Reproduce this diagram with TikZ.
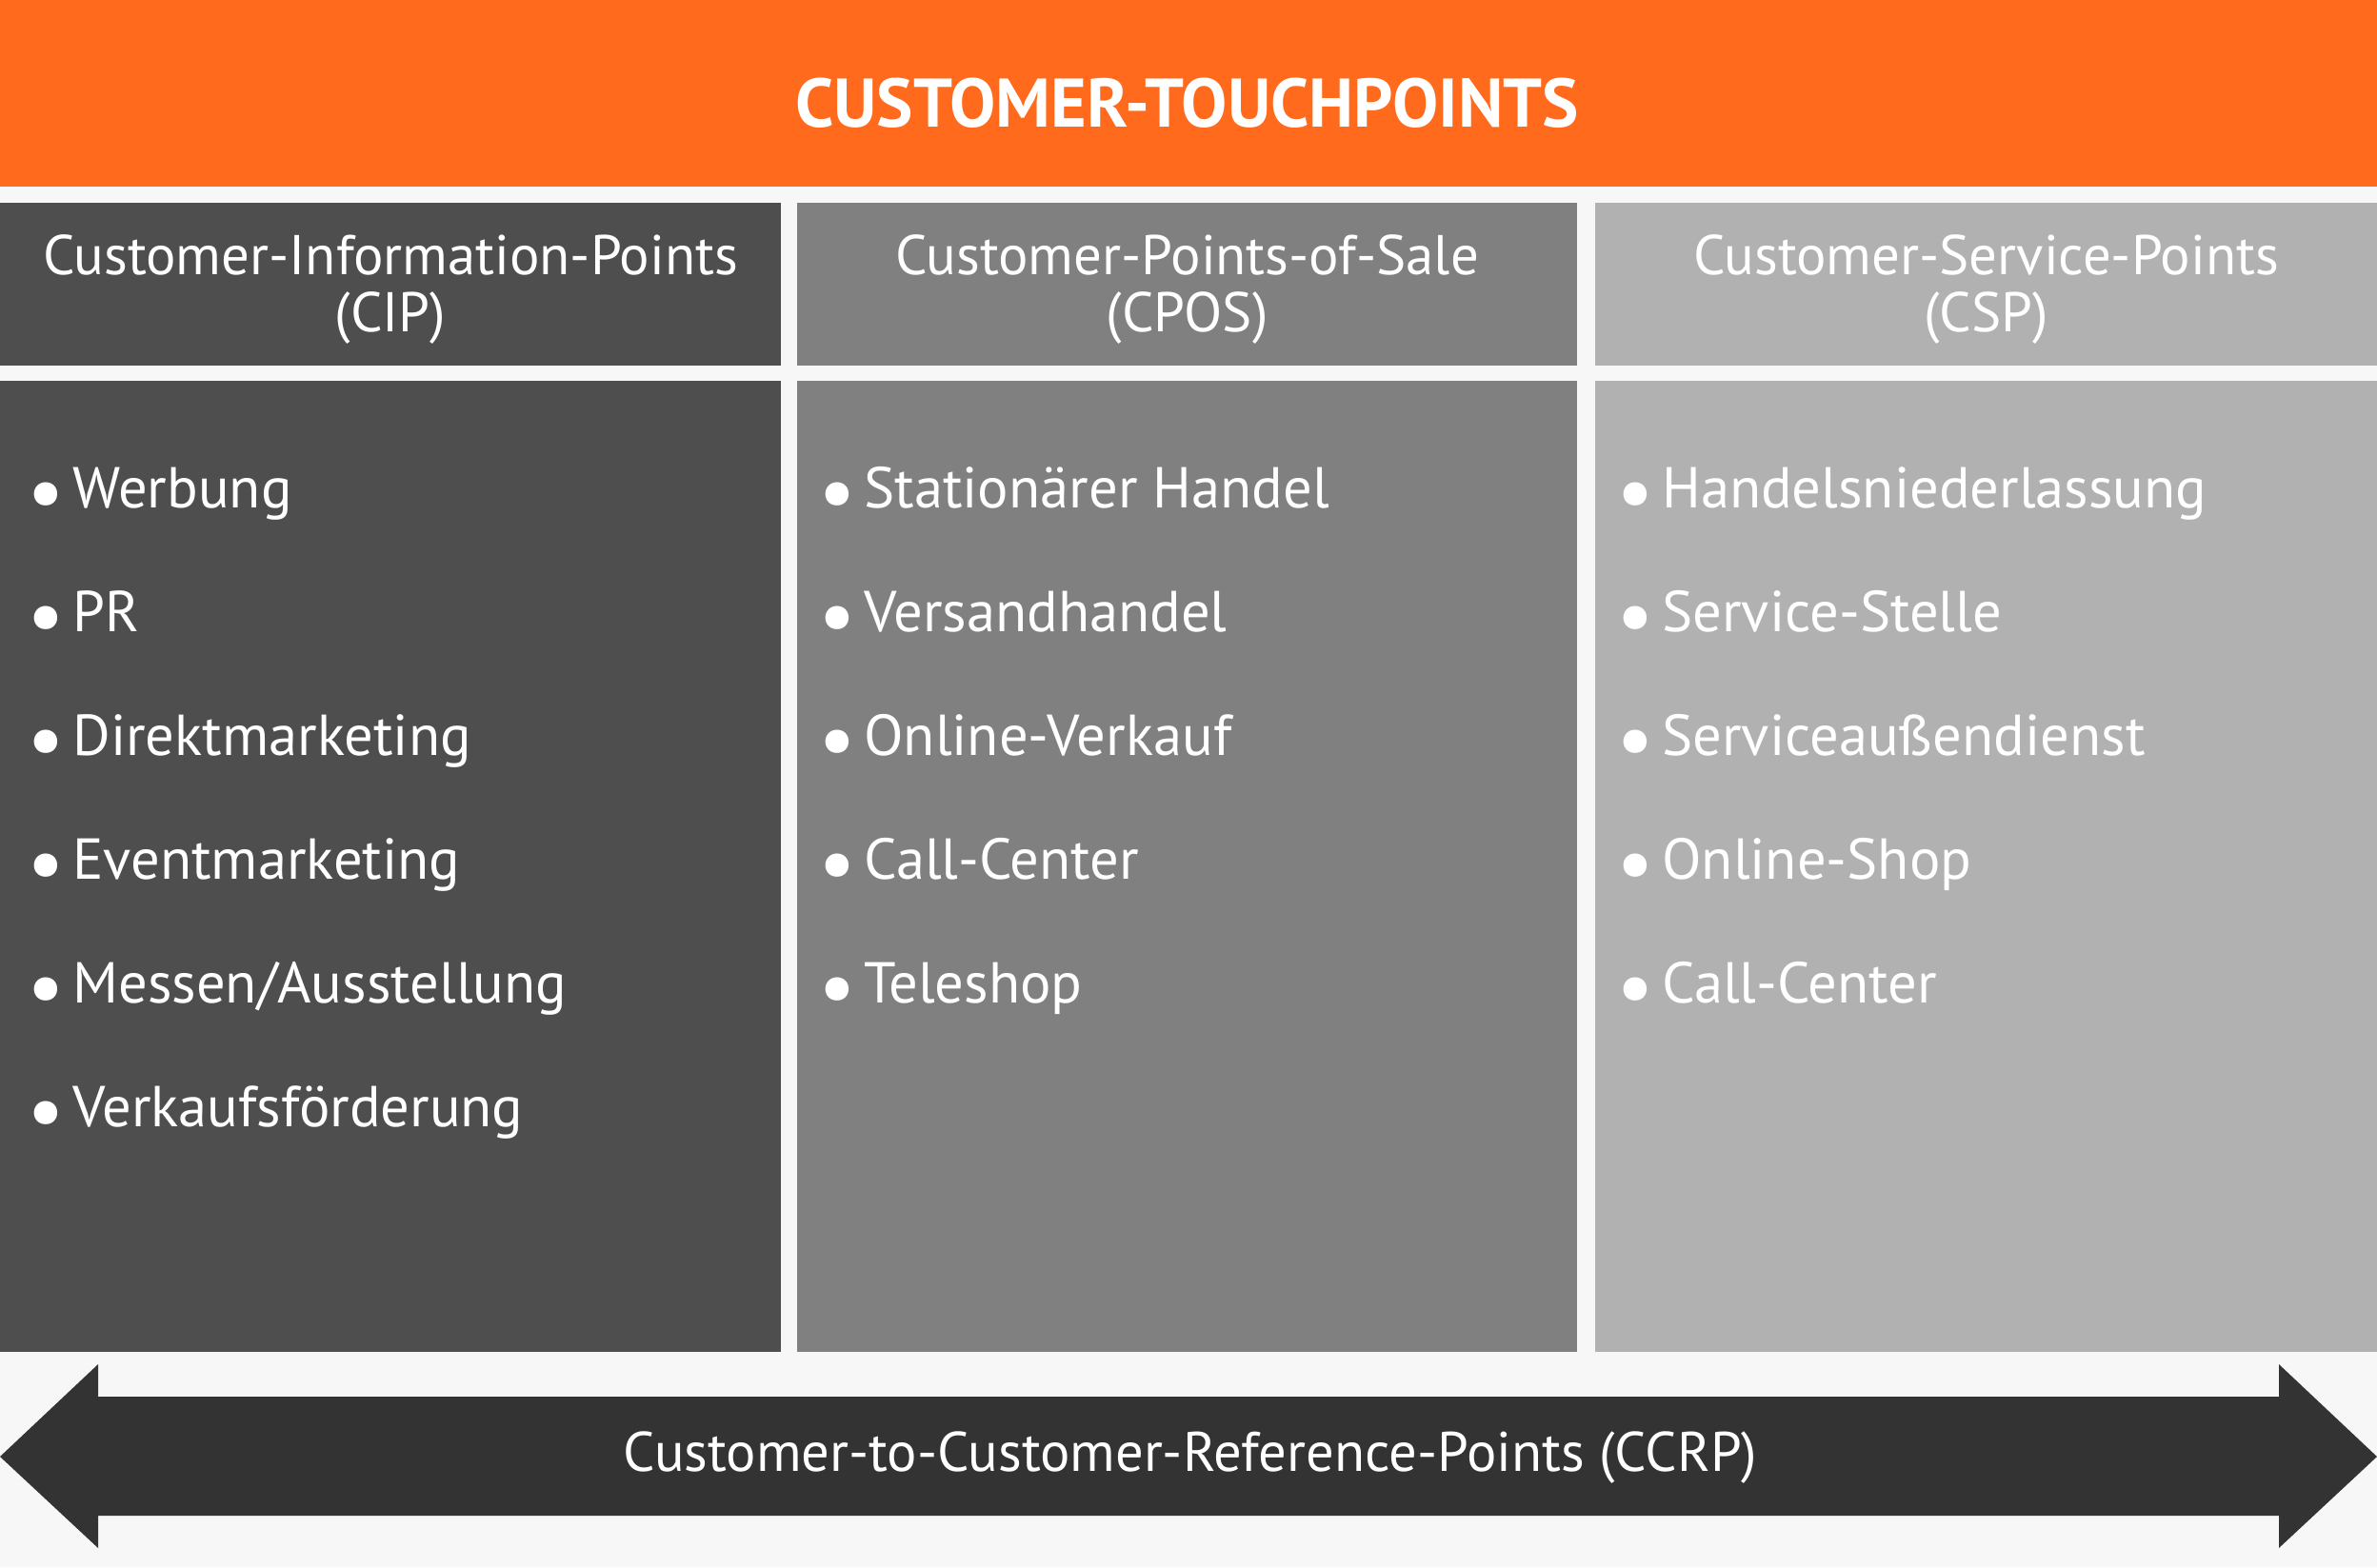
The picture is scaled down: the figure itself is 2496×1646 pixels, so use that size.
\documentclass[tikz,border=0pt]{standalone}
\usepackage{fontspec}
\usepackage{graphicx}
\setmainfont{PT Sans}
\definecolor{bgc}{HTML}{F7F7F7}
\definecolor{orangec}{HTML}{FF6A1C}
\definecolor{darkc}{HTML}{4E4E4E}
\definecolor{midc}{HTML}{808080}
\definecolor{lightc}{HTML}{B1B1B1}
\definecolor{arrowc}{HTML}{333333}
\newcommand{\itembul}{\makebox[20pt][l]{\hspace{-4pt}\raisebox{-6.5pt}{\scalebox{1.45}{\textbullet}}}}
\begin{document}
\begin{tikzpicture}[x=0.5pt,y=-0.5pt,
  panel/.style={inner sep=0pt, outer sep=0pt, draw=none},
  hdrbox/.style={panel, minimum height=85.5pt},
  bodybox/.style={panel, minimum height=510pt},
  hdrtext/.style={text=white, align=center, inner sep=0pt, font=\fontsize{29.4pt}{30pt}\selectfont},
  itemtext/.style={text=white, anchor=base west, inner sep=0pt, font=\fontsize{30.3pt}{34pt}\selectfont},
  titletext/.style={text=white, anchor=base, inner sep=0pt, font=\fontsize{36.1pt}{40pt}\selectfont\bfseries},
  labeltext/.style={text=white, anchor=base, inner sep=0pt, font=\fontsize{29.3pt}{30pt}\selectfont}
]
\useasboundingbox (0,0) rectangle (2496,1646);
\fill[bgc] (0,0) rectangle (2496,1646);
% title band
\node[panel, fill=orangec, minimum width=1248pt, minimum height=98pt] (band) at (1248,98) {};
\node[titletext] (title) at (1246.5,133) {CUSTOMER-TOUCHPOINTS};
% header boxes
\node[hdrbox, fill=darkc, minimum width=410pt] (h1) at (410,298.5) {};
\node[hdrbox, fill=midc, minimum width=409.5pt] (h2) at (1246.5,298.5) {};
\node[hdrbox, fill=lightc, minimum width=410.5pt] (h3) at (2085.5,298.5) {};
\node[hdrtext] (h1t) at (410,304) {Customer-Information-Points\\(CIP)};
\node[hdrtext] (h2t) at (1246.5,304) {Customer-Points-of-Sale\\(CPOS)};
\node[hdrtext] (h3t) at (2085.5,304) {Customer-Service-Points\\(CSP)};
% body boxes
\node[bodybox, fill=darkc, minimum width=410pt] (b1) at (410,910) {};
\node[bodybox, fill=midc, minimum width=409.5pt] (b2) at (1246.5,910) {};
\node[bodybox, fill=lightc, minimum width=410.5pt] (b3) at (2085.5,910) {};
% items column 1
\node[itemtext] (a1) at (36,533) {\itembul Werbung};
\node[itemtext] (a2) at (36,663) {\itembul PR};
\node[itemtext] (a3) at (36,793) {\itembul Direktmarketing};
\node[itemtext] (a4) at (36,923) {\itembul Eventmarketing};
\node[itemtext] (a5) at (36,1053) {\itembul Messen/Ausstellung};
\node[itemtext] (a6) at (36,1183) {\itembul Verkaufsförderung};
% items column 2
\node[itemtext] (c1) at (867,533) {\itembul Stationärer Handel};
\node[itemtext] (c2) at (867,663) {\itembul Versandhandel};
\node[itemtext] (c3) at (867,793) {\itembul Online-Verkauf};
\node[itemtext] (c4) at (867,923) {\itembul Call-Center};
\node[itemtext] (c5) at (867,1053) {\itembul Teleshop};
% items column 3
\node[itemtext] (d1) at (1705,533) {\itembul Handelsniederlassung};
\node[itemtext] (d2) at (1705,663) {\itembul Service-Stelle};
\node[itemtext] (d3) at (1705,793) {\itembul Serviceaußendienst};
\node[itemtext] (d4) at (1705,923) {\itembul Online-Shop};
\node[itemtext] (d5) at (1705,1053) {\itembul Call-Center};
% double arrow
\fill[arrowc] (0,1530) -- (103,1433) -- (103,1467) -- (2393,1467) -- (2393,1433)
  -- (2496,1530) -- (2393,1626) -- (2393,1592) -- (103,1592) -- (103,1626) -- cycle;
\node[labeltext] (ccrp) at (1250,1545) {Customer-to-Customer-Reference-Points (CCRP)};
\end{tikzpicture}
\end{document}
